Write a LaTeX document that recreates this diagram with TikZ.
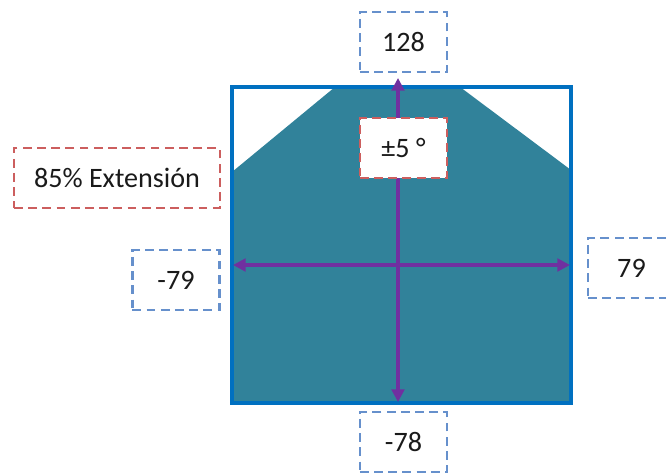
\documentclass[tikz,border=0pt]{standalone}
\usepackage{fontspec}
\setmainfont{Carlito}
\usetikzlibrary{arrows.meta}
\definecolor{frameblue}{HTML}{0070C0}
\definecolor{reachteal}{HTML}{31829A}
\definecolor{axispurple}{HTML}{7030A0}
\definecolor{dashblue}{HTML}{6690CC}
\definecolor{dashred}{HTML}{CC5E5E}
\definecolor{labeltext}{HTML}{1A1A1A}
\begin{document}
\begin{tikzpicture}[x=0.025cm,y=-0.025cm,
    every node/.style={font=\fontsize{20}{24}\selectfont, text=labeltext},
    valbox/.style={draw=dashblue, dash pattern=on 6.3pt off 3.8pt, line width=1.9pt,
      minimum width=2.18cm, minimum height=1.5cm, fill=white},
    notebox/.style={valbox, draw=dashred},
    axis/.style={axispurple, line width=2.2pt, {Triangle[length=9pt,width=9pt]}-{Triangle[length=9pt,width=9pt]}}]
  \useasboundingbox (0,0) rectangle (666,475);
  % reach area and frame
  \fill[reachteal] (232,403) -- (232,172) -- (335,87) -- (460,87) -- (571,170) -- (571,403) -- cycle;
  \draw[frameblue, line width=2.9pt] (232,87) rectangle (571,403);
  % axes
  \coordinate (top) at (398,78);
  \coordinate (bot) at (398,402);
  \coordinate (left) at (233,265);
  \coordinate (right) at (570,265);
  \begin{scope}
    \draw[axis] (bot) -- (top);
    \draw[axis] (left) -- (right);
  \end{scope}
  % limits
  \node[valbox] (up) at (403.5,42) {128};
  \node[notebox] (tilt) at (403.5,148) {±5 °};
  \node[notebox, minimum width=5.15cm] (ext) at (117,178) {85\% Extensión};
  \node[valbox] (xmin) at (176,280) {-79};
  \node[valbox] (xmax) at (631.5,268) {79};
  \node[valbox] (down) at (403.5,442) {-78};
\end{tikzpicture}
\end{document}
